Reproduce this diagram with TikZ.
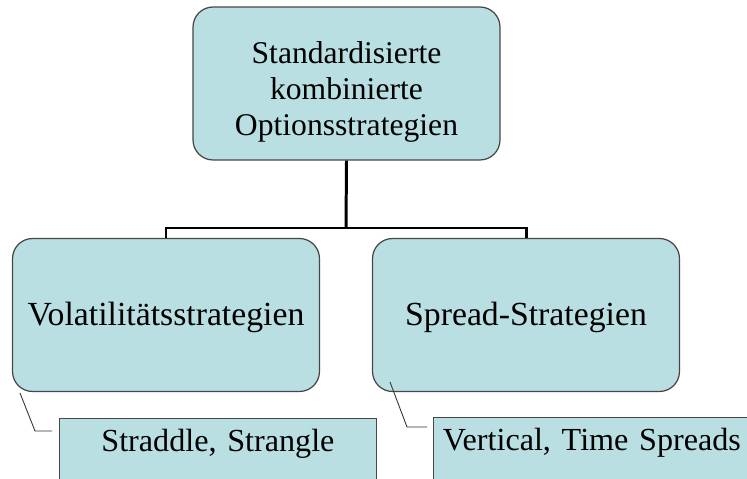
\documentclass[tikz,border=0pt]{standalone}
\usepackage{fontspec}
\setmainfont{Liberation Serif}
\usepackage{xcolor}
\usetikzlibrary{positioning}
\definecolor{boxfill}{RGB}{186,223,226}
\definecolor{boxline}{RGB}{70,70,70}
\tikzstyle{topic} = [rectangle, rounded corners=0.4cm, minimum width=6.14cm, minimum height=3.06cm, text centered, align=center, draw=boxline, line width=0.7pt, fill=boxfill, font=\fontsize{19.2}{21}\selectfont]
\tikzstyle{leaf} = [rectangle, anchor=north west, minimum width=6.28cm, text width=6.1cm, text centered, align=center, text height=13pt, text depth=60pt, inner ysep=6pt, draw=boxline, line width=0.7pt, fill=boxfill, font=\fontsize{18.3}{20.7}\selectfont]
\tikzstyle{tree} = [line width=1.7pt, line join=miter]
\tikzstyle{callout} = [line width=0.5pt, draw=black!80]

\begin{document}
\begin{tikzpicture}[x=0.02cm, y=-0.02cm]
\useasboundingbox (0,0) rectangle (747,479);
\clip (0,0) rectangle (747,479);

% Nodes
\node (root) [topic, font=\fontsize{18}{20.7}\selectfont] at (346.5,83.5) {\rule{0pt}{22pt}Standardisierte\\kombinierte\\Optionsstrategien};
\node (vol) [topic] at (166,315) {\rule{0pt}{16pt}Volatilitätsstrategien};
\node (spread) [topic] at (526,315) {\rule{0pt}{16pt}Spread-Strategien};
\node (straddle) [leaf] at (59,418) {Straddle, Strangle};
\node (vertical) [leaf] at (433,417) {Vertical, Time Spreads};

% Tree lines
\coordinate (bar) at (346,228);
\draw [tree] (root.south) -- (bar);
\draw [tree] (vol.north) |- (bar) -| (spread.north);

% Callout lines
\coordinate (volpt) at (20,393);
\coordinate (volend) at (52,431);
\coordinate (spreadpt) at (390,382);
\coordinate (spreadend) at (427,427);
\draw [callout] (volpt) -- (35,431) -- (volend);
\draw [callout] (spreadpt) -- (407,427) -- (spreadend);

\end{tikzpicture}
\end{document}
